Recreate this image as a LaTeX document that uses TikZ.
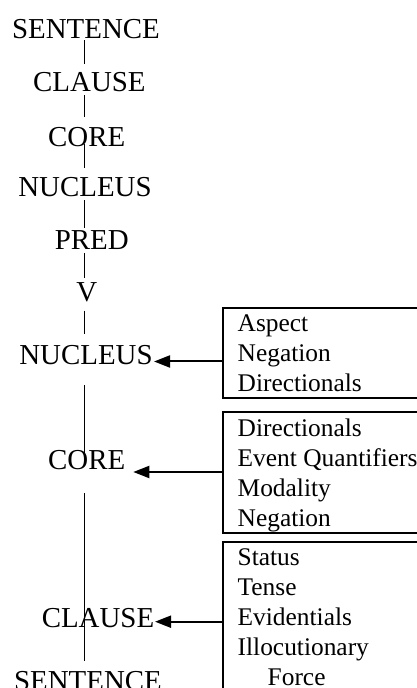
\documentclass[tikz,border=0pt]{standalone}
\usepackage{fontspec}
\setmainfont{Liberation Serif}
\usetikzlibrary{arrows.meta}
\begin{document}
\begin{tikzpicture}[x=1pt,y=1pt,
  lab/.style={inner sep=0pt, anchor=base, font=\fontsize{28.9}{34}\selectfont},
  listtext/.style={inner sep=0pt, anchor=north west, align=left, font=\fontsize{25.4}{30}\selectfont},
  boxframe/.style={draw, line width=2pt, inner sep=0pt, anchor=north west, minimum width=240pt},
  treeline/.style={line width=1.3pt},
  arr/.style={line width=2pt, -{Triangle[length=16pt,width=12pt]}}]
\useasboundingbox (0,0) rectangle (417,688);
\clip (0,0) rectangle (417,688);
% left labels
\node[lab] (s1)  at (86,649.7)  {SENTENCE};
\node[lab] (c1)  at (89.4,596.3) {CLAUSE};
\node[lab] (co1) at (86.7,541.3) {CORE};
\node[lab] (n1)  at (85,491.3)  {NUCLEUS};
\node[lab] (p)   at (91.7,438)  {PRED};
\node[lab] (v)   at (86.7,386.3) {V};
\node[lab] (n2)  at (86,323)    {NUCLEUS};
\node[lab] (co2) at (86.7,218)  {CORE};
\node[lab] (c2)  at (98,60)     {CLAUSE};
\node[lab] (s2)  at (88,-2)     {SENTENCE};
% tree lines
\coordinate (ax) at (84.3,0);
\draw[treeline, shorten <=1.7pt, shorten >=8.7pt] (s1.south -| ax) -- (c1.north -| ax);
\draw[treeline, shorten <=3.3pt, shorten >=10pt] (c1.south -| ax) -- (co1.north -| ax);
\draw[treeline, shorten <=-3.4pt, shorten >=9.7pt] (co1.south -| ax) -- (n1.north -| ax);
\draw[treeline, shorten <=3.3pt, shorten >=3pt] (n1.south -| ax) -- (p.north -| ax);
\draw[treeline, shorten <=3pt, shorten >=4.7pt] (p.south -| ax) -- (v.north -| ax);
\draw[treeline, shorten <=8.3pt, shorten >=12pt] (v.south -| ax) -- (n2.north -| ax);
\draw[treeline, shorten <=20pt, shorten >=-3pt] (n2.south -| ax) -- (co2.north -| ax);
\draw[treeline, shorten <=23pt, shorten >=10pt] (co2.south -| ax) -- (s2.north -| ax);
% boxes
\node[boxframe, minimum height=90pt] (f1) at (221.7,381) {};
\node[boxframe, minimum height=121pt] (f2) at (221.7,277) {};
\node[boxframe, minimum height=170pt] (f3) at (221.7,147.3) {};
\node[listtext] (b1) at (237.5,376.5) {\rule{0pt}{20pt}Aspect\\Negation\\Directionals};
\node[listtext] (b2) at (237.5,272) {\rule{0pt}{20pt}Directionals\\Event Quantifiers\\Modality\\Negation};
\node[listtext] (b3) at (237.5,142.5) {\rule{0pt}{20pt}Status\\Tense\\Evidentials\\Illocutionary\\\hspace*{30pt}Force};
% arrows
\coordinate (t1) at (154,326.5);
\coordinate (t2) at (133.3,216);
\coordinate (t3) at (155,66.3);
\draw[arr] (t1 -| f1.west) -- (t1);
\draw[arr] (t2 -| f2.west) -- (t2);
\draw[arr] (t3 -| f3.west) -- (t3);
\end{tikzpicture}
\end{document}
